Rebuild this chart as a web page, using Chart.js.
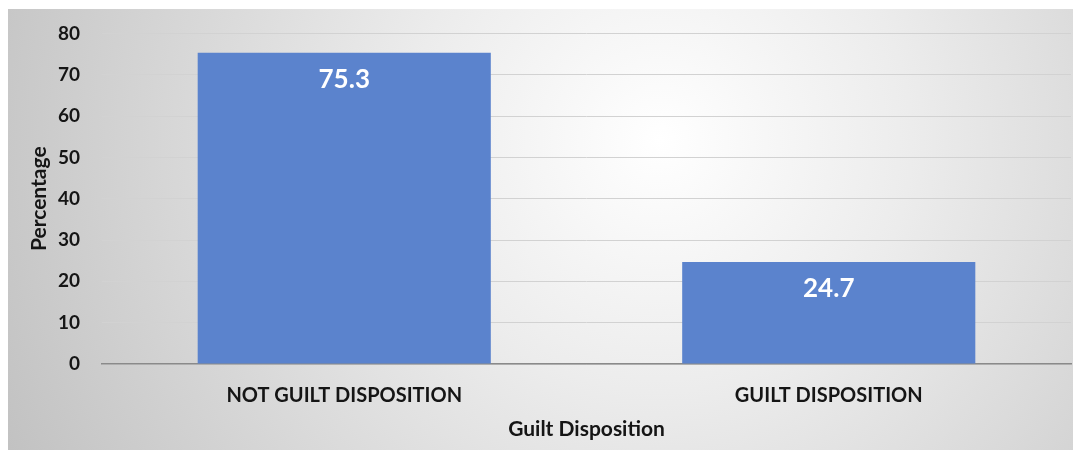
<!DOCTYPE html>
<html>
<head>
<meta charset="utf-8">
<script src="https://cdn.jsdelivr.net/npm/chart.js@4"></script>
<style>
    html, body { margin: 0; padding: 0; background: #ffffff; }
    #wrap { width: 1073px; height: 450px; position: relative; }
</style>
</head>
<body>
<div id="wrap"><canvas id="chart"></canvas></div>
<script>
(function () {
    "use strict";

    // ======================================================================
    // Data
    //
    const categories = ['NOT GUILT DISPOSITION', 'GUILT DISPOSITION'];
    const percentages = [75.3, 24.7];
    const yTicks = [0, 10, 20, 30, 40, 50, 60, 70, 80];

    const FONT = 'Lato, "Open Sans", sans-serif';

    // ======================================================================
    // Plugins
    //
    const panelBackground = {
        id: 'panelBackground',
        beforeDraw(chart) {
            const ctx = chart.ctx;
            const x0 = 8, y0 = 9, x1 = chart.width, y1 = chart.height;
            const g = ctx.createRadialGradient(660, 140, 0, 660, 140, 720);
            g.addColorStop(0, '#ffffff');
            g.addColorStop(0.35, '#ececec');
            g.addColorStop(1, '#c2c2c2');
            ctx.save();
            ctx.fillStyle = g;
            ctx.fillRect(x0, y0, x1 - x0, y1 - y0);
            ctx.restore();
        }
    };

    const barValues = {
        id: 'barValues',
        afterDatasetsDraw(chart) {
            const ctx = chart.ctx;
            const meta = chart.getDatasetMeta(0);
            ctx.save();
            ctx.fillStyle = '#ffffff';
            ctx.font = 'bold 26px ' + FONT;
            ctx.textAlign = 'center';
            ctx.textBaseline = 'middle';
            meta.data.forEach((bar, i) => {
                ctx.fillText(percentages[i].toFixed(1), bar.x, bar.y + 27);
            });
            ctx.restore();
        }
    };

    // ======================================================================
    // Chart
    //
    new Chart(document.getElementById('chart'), {
        type: 'bar',
        data: {
            labels: categories,
            datasets: [{
                label: 'Percentage',
                data: percentages,
                backgroundColor: '#5b83cd',
                borderWidth: 0,
                categoryPercentage: 0.605,
                barPercentage: 1.0
            }]
        },
        options: {
            responsive: true,
            maintainAspectRatio: false,
            animation: false,
            layout: { padding: { left: 22, right: 2, top: 20, bottom: 0 } },
            plugins: {
                legend: { display: false },
                tooltip: { enabled: false }
            },
            scales: {
                x: {
                    grid: { display: false, drawTicks: false },
                    border: { display: true, color: '#8a8a8a', width: 1.5 },
                    ticks: {
                        color: '#151515',
                        padding: 20,
                        font: { family: FONT, size: 20, weight: 'bold' }
                    },
                    title: {
                        display: true,
                        text: 'Guilt Disposition',
                        color: '#151515',
                        padding: { top: 0, bottom: 8 },
                        font: { family: FONT, size: 21, weight: 'bold' }
                    },
                    afterFit(scale) { scale.height = 86; }
                },
                y: {
                    min: 0,
                    max: 80,
                    afterBuildTicks(scale) {
                        scale.ticks = yTicks.map(v => ({ value: v }));
                    },
                    grid: { color: '#d2d2d2', lineWidth: 1, drawTicks: false },
                    border: { display: false },
                    ticks: {
                        color: '#151515',
                        padding: 22,
                        font: { family: FONT, size: 19, weight: 'bold' }
                    },
                    title: {
                        display: true,
                        text: 'Percentage',
                        color: '#151515',
                        padding: 5,
                        font: { family: FONT, size: 21, weight: 'bold' }
                    },
                    afterFit(scale) { scale.width = 80; }
                }
            }
        },
        plugins: [panelBackground, barValues]
    });
})();
</script>
</body>
</html>
